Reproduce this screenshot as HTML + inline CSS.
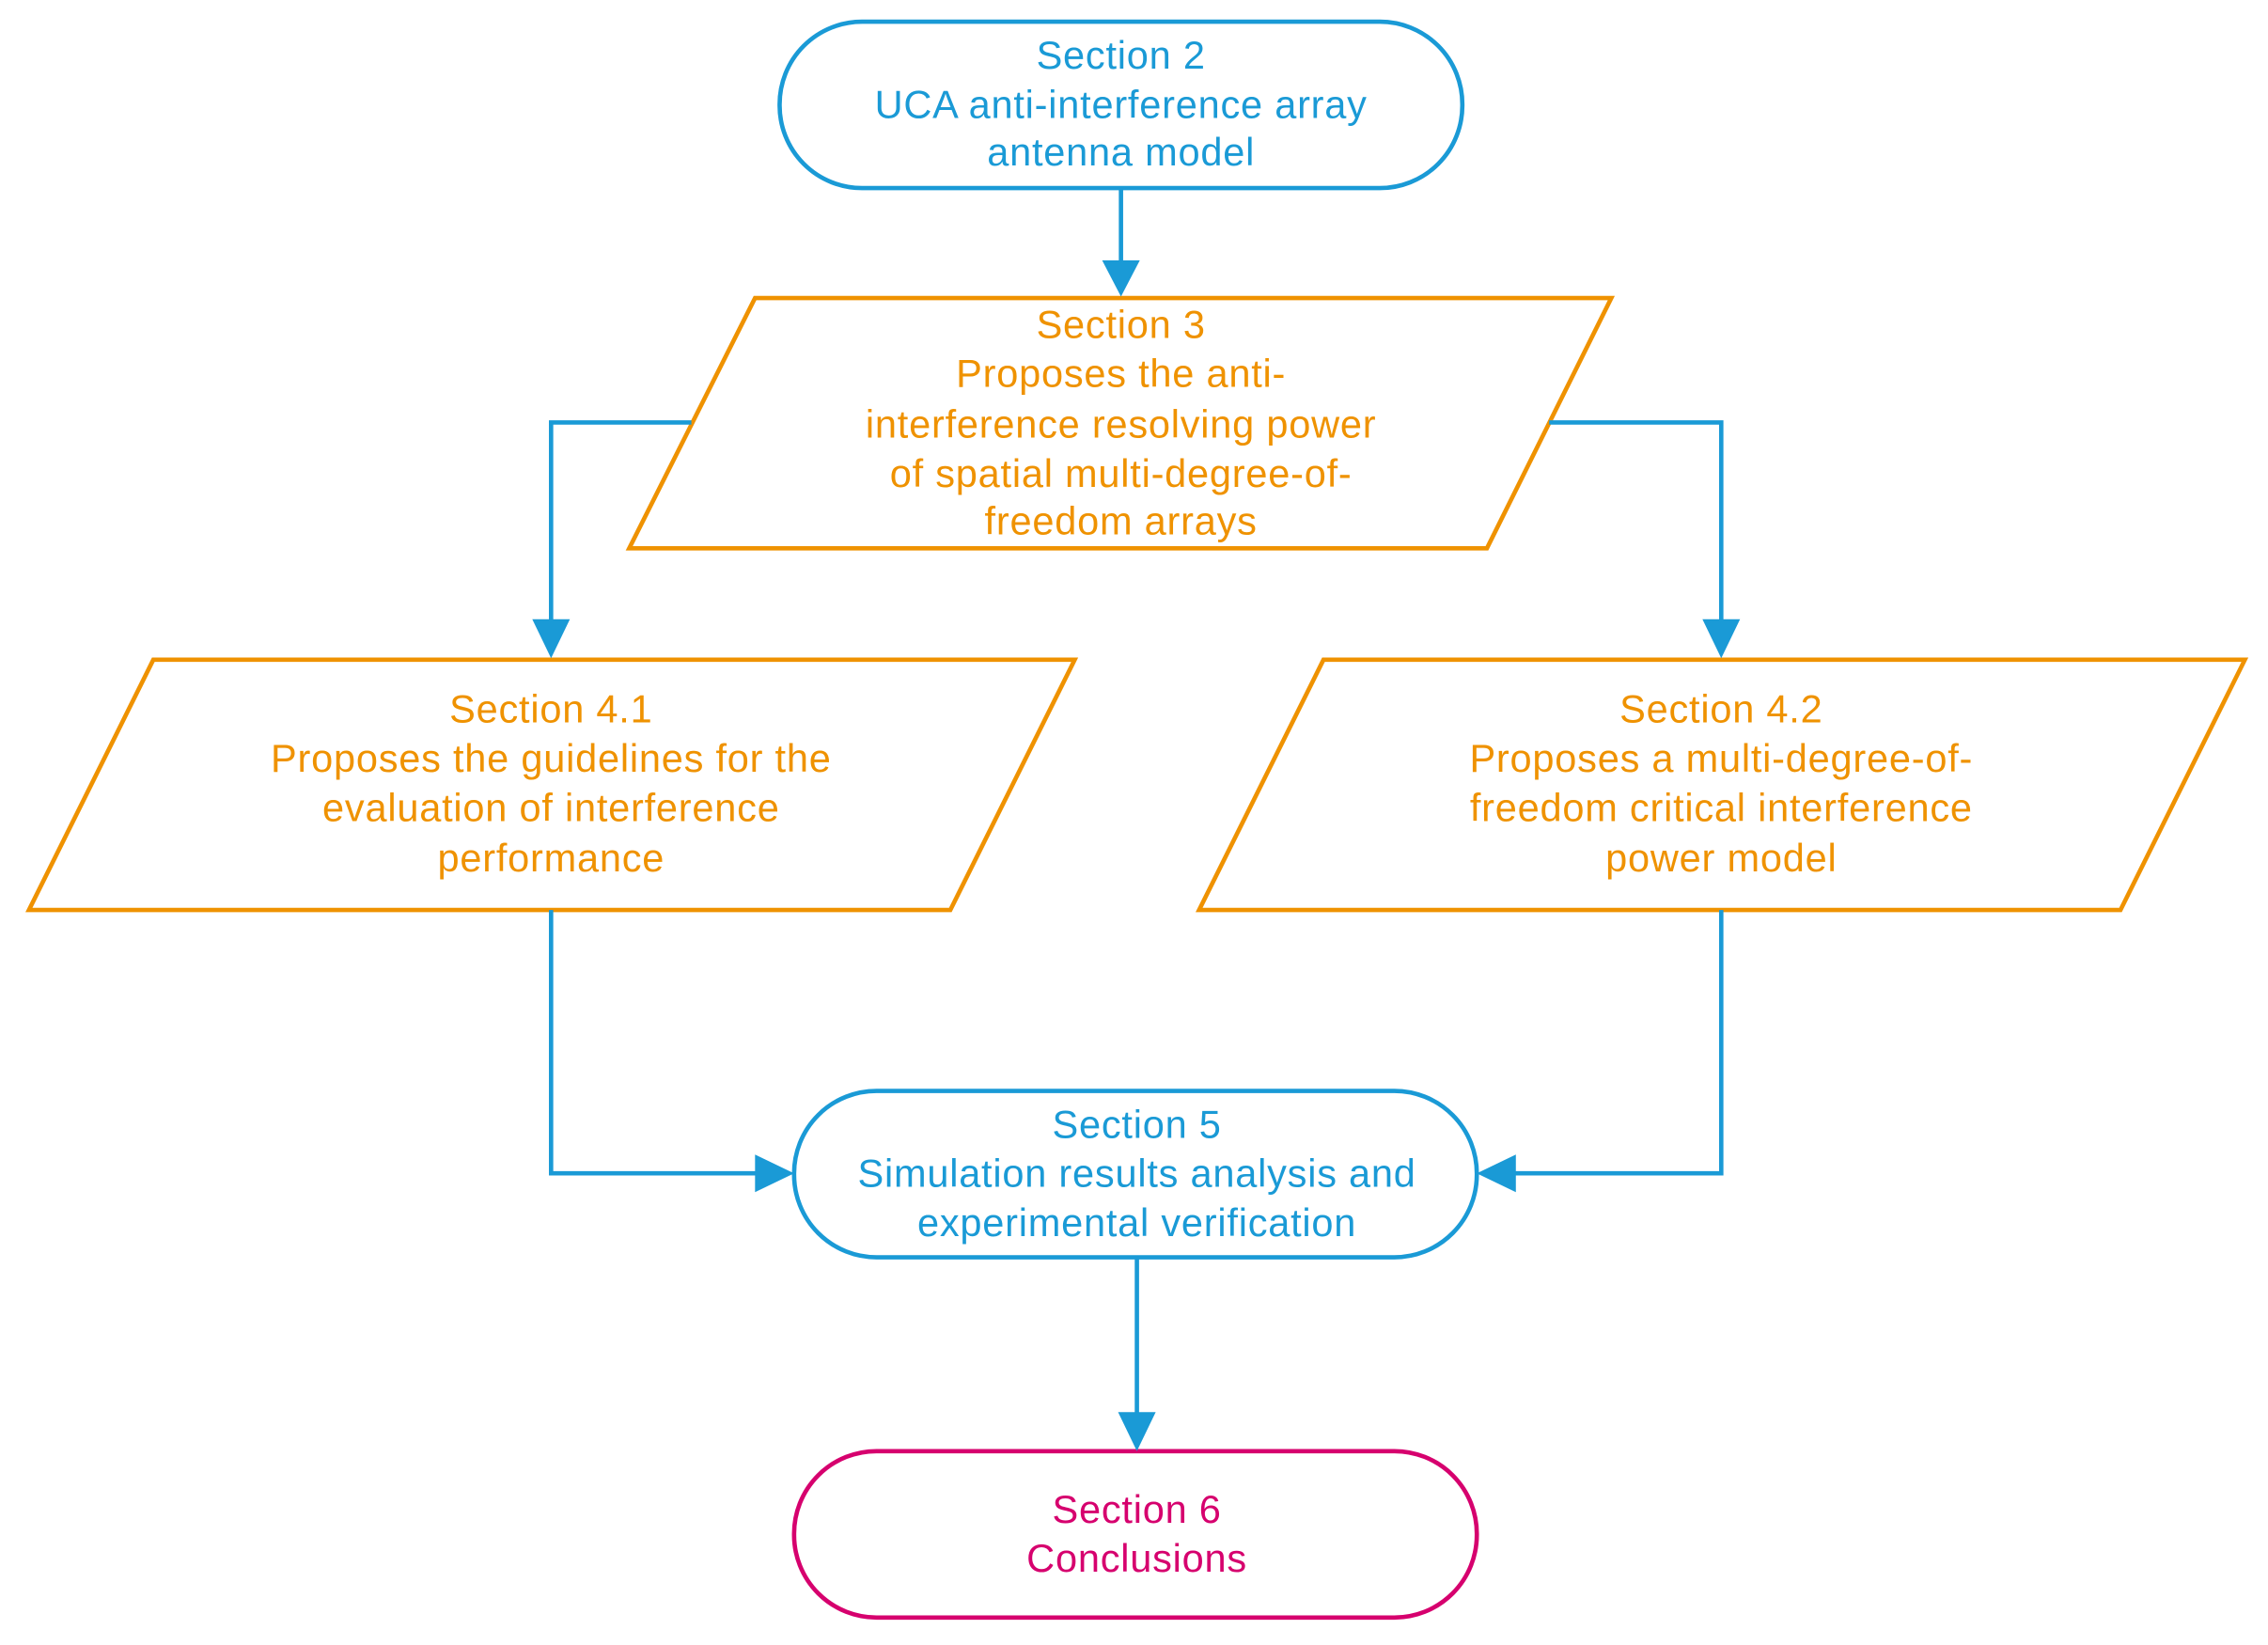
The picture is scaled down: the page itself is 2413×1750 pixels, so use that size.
<!DOCTYPE html>
<html><head><meta charset="utf-8"><style>
html,body{margin:0;padding:0;background:#fff;}
svg{display:block;}
text{font-family:"Liberation Sans",Arial,sans-serif;font-size:27px;letter-spacing:0.5px;text-anchor:middle;dominant-baseline:central;}
.b{fill:#1a9ad6}.o{fill:#ef9200}.m{fill:#d6006e}
</style></head><body>
<svg width="2413" height="1750" viewBox="0 0 1568 1137" preserveAspectRatio="none" xmlns="http://www.w3.org/2000/svg">
<g fill="none" stroke-width="3">
<rect x="539" y="15" width="472" height="115" rx="57" stroke="#1a9ad6"/>
<polygon points="522,206 1114,206 1028,379 435,379" stroke="#ef9200"/>
<polygon points="106,456 743,456 657,629 20,629" stroke="#ef9200"/>
<polygon points="915,456 1552,456 1466,629 829,629" stroke="#ef9200"/>
<rect x="549" y="754" width="472" height="115" rx="57" stroke="#1a9ad6"/>
<rect x="549" y="1003" width="472" height="115" rx="57" stroke="#d6006e"/>
<g stroke="#1a9ad6">
<polyline points="775,130 775,182"/>
<polyline points="478,292 381,292 381,430"/>
<polyline points="1071,292 1190,292 1190,430"/>
<polyline points="381,629 381,811 524,811"/>
<polyline points="1190,629 1190,811 1046,811"/>
<polyline points="786,869 786,978"/>
</g>
</g>
<g fill="#1a9ad6">
<polygon points="762,180 788,180 775,205"/>
<polygon points="368,428 394,428 381,455"/>
<polygon points="1177,428 1203,428 1190,455"/>
<polygon points="522,798 522,824 549,811"/>
<polygon points="1048,798 1048,824 1021,811"/>
<polygon points="773,976 799,976 786,1003"/>
</g>
<text class="b" x="775" y="38">Section 2</text>
<text class="b" x="775" y="72">UCA anti-interference array</text>
<text class="b" x="775" y="105">antenna model</text>
<text class="o" x="775" y="224">Section 3</text>
<text class="o" x="775" y="258">Proposes the anti-</text>
<text class="o" x="775" y="293">interference resolving power</text>
<text class="o" x="775" y="327">of spatial multi-degree-of-</text>
<text class="o" x="775" y="360">freedom arrays</text>
<text class="o" x="381" y="490">Section 4.1</text>
<text class="o" x="381" y="524">Proposes the guidelines for the</text>
<text class="o" x="381" y="558">evaluation of interference</text>
<text class="o" x="381" y="593">performance</text>
<text class="o" x="1190" y="490">Section 4.2</text>
<text class="o" x="1190" y="524">Proposes a multi-degree-of-</text>
<text class="o" x="1190" y="558">freedom critical interference</text>
<text class="o" x="1190" y="593">power model</text>
<text class="b" x="786" y="777">Section 5</text>
<text class="b" x="786" y="811">Simulation results analysis and</text>
<text class="b" x="786" y="845">experimental verification</text>
<text class="m" x="786" y="1043">Section 6</text>
<text class="m" x="786" y="1077">Conclusions</text>
</svg>
</body></html>
